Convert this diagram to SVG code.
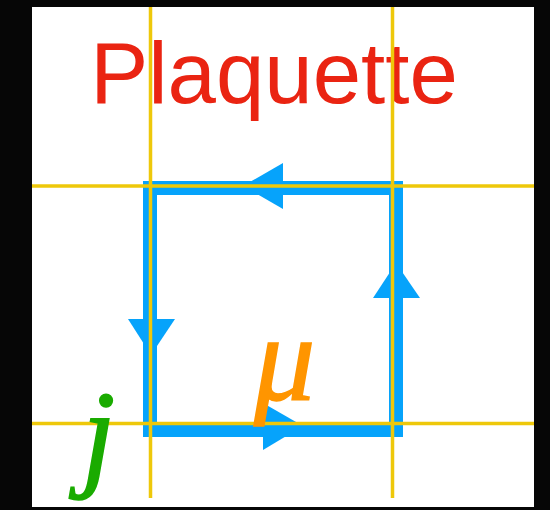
<svg xmlns="http://www.w3.org/2000/svg" width="550" height="510" viewBox="0 0 550 510">
  <style>
    .grid { stroke: #eec80a; stroke-width: 3.5; fill: none; }
    .loop { stroke: #06a3fb; stroke-width: 14; fill: none; stroke-linejoin: miter; }
    .head { fill: #06a3fb; }
    .title { font-family: "Liberation Sans", Arial, sans-serif; font-size: 87px; fill: #ea2412; }
    .sym { font-family: "Liberation Serif", "Times New Roman", serif; font-style: italic; stroke-width: 1.5; }
  </style>
  <rect x="0" y="0" width="550" height="510" fill="#060606"/>
  <rect x="32" y="7" width="502" height="500" fill="#ffffff"/>

  <g id="title">
    <text class="title" x="274" y="103" text-anchor="middle">Plaquette</text>
  </g>

  <g id="connectors">
    <g id="plaquette-loop">
      <rect class="loop" x="150" y="188" width="246" height="242"/>
      <polygon class="head" points="243,186 283,163 283,209"/>
      <polygon class="head" points="396,263 373,298 420,298"/>
      <polygon class="head" points="128,319 175,319 151,355"/>
      <polygon class="head" points="303,426 263,403 263,450"/>
    </g>
    <g id="lattice">
      <line class="grid" x1="150.5" y1="7" x2="150.5" y2="498"/>
      <line class="grid" x1="392.5" y1="7" x2="392.5" y2="498"/>
      <line class="grid" x1="32" y1="186" x2="534" y2="186"/>
      <line class="grid" x1="32" y1="423.5" x2="534" y2="423.5"/>
    </g>
  </g>

  <g id="label-mu">
    <text class="sym" x="254" y="400" font-size="122" fill="#ff9500" stroke="#ff9500">μ</text>
  </g>
  <g id="label-j">
    <text class="sym" x="82" y="474" font-size="120" fill="#1aab00" stroke="#1aab00">j</text>
  </g>
</svg>
